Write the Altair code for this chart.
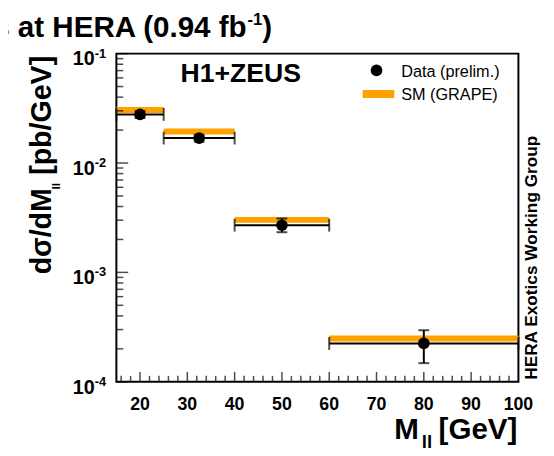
import altair as alt
import pandas as pd

# ---------------- data ----------------
bin_lo = [15, 25, 40, 60]
bin_hi = [25, 40, 60, 100]
m_center = [20, 32.5, 50, 80]
data_xsec = [0.0278, 0.0169, 0.00270, 0.000224]
data_err_up = [0.0020, 0.0012, 0.00041, 0.000072]
data_err_dn = [0.0020, 0.0012, 0.00037, 0.000076]
sm_xsec = [0.0305, 0.0194, 0.00302, 0.000249]

x_major = [20, 30, 40, 50, 60, 70, 80, 90]
x_minor = [v for v in range(16, 100, 2) if v % 10 != 0]
x_labels = [20, 30, 40, 50, 60, 70, 80, 90, 100]
y_decades = [1e-4, 1e-3, 1e-2, 1e-1]
y_exponents = ["-4", "-3", "-2", "-1"]
y_minor = [m * 10.0 ** e for e in (-4, -3, -2) for m in range(2, 10)]

title_main = "s at HERA (0.94 fb"
title_exp = "-1"
title_close = ")"
exp_label = "H1+ZEUS"
legend_data = "Data (prelim.)"
legend_sm = "SM (GRAPE)"
side_note = "HERA Exotics Working Group"
ytitle_parts = ["d\u03c3/dM", "ll", "[pb/GeV]"]
xtitle_parts = ["M", "ll", "[GeV]"]

ORANGE = "#ffa200"
FONT = "Liberation Sans"
W, H = 408, 333

df = pd.DataFrame({
    "lo": bin_lo, "hi": bin_hi, "center": m_center,
    "val": data_xsec,
    "up": [v + e for v, e in zip(data_xsec, data_err_up)],
    "dn": [v - e for v, e in zip(data_xsec, data_err_dn)],
    "sm": sm_xsec,
})
edges = pd.DataFrame({
    "edge": bin_lo + bin_hi,
    "val": data_xsec + data_xsec,
})
errs = pd.DataFrame({
    "center": m_center + m_center,
    "y": list(df["up"]) + list(df["dn"]),
})

xs = alt.Scale(domain=[15, 100], nice=False, zero=False)
ys = alt.Scale(type="log", domain=[1e-4, 1e-1], nice=False)

def X(f):
    return alt.X(f, scale=xs, axis=None)

def Y(f):
    return alt.Y(f, scale=ys, axis=None)

sm_band = alt.Chart(df).mark_rule(color=ORANGE, strokeWidth=6, strokeCap="butt").encode(
    x=X("lo:Q"), x2="hi:Q", y=Y("sm:Q"))
hline = alt.Chart(df).mark_rule(color="black", strokeWidth=2).encode(
    x=X("lo:Q"), x2="hi:Q", y=Y("val:Q"))
edge_caps = alt.Chart(edges).mark_tick(orient="vertical", size=13, thickness=2, color="black").encode(
    x=X("edge:Q"), y=Y("val:Q"))
vline = alt.Chart(df).mark_rule(color="black", strokeWidth=2).encode(
    x=X("center:Q"), y=Y("dn:Q"), y2="up:Q")
err_caps = alt.Chart(errs).mark_tick(orient="horizontal", size=11, thickness=2, color="black").encode(
    x=X("center:Q"), y=Y("y:Q"))
points = alt.Chart(df).mark_circle(size=140, color="black", opacity=1).encode(
    x=X("center:Q"), y=Y("val:Q"))

# axis ticks (inward)
xmaj = alt.Chart(pd.DataFrame({"v": x_major})).mark_tick(orient="vertical", size=10, thickness=1.5, color="black").encode(
    x=X("v:Q"), y=alt.value(H - 5))
xmin = alt.Chart(pd.DataFrame({"v": x_minor})).mark_tick(orient="vertical", size=6, thickness=1.5, color="black").encode(
    x=X("v:Q"), y=alt.value(H - 3))
ymaj = alt.Chart(pd.DataFrame({"v": y_decades})).mark_tick(orient="horizontal", size=12, thickness=1.5, color="black").encode(
    y=Y("v:Q"), x=alt.value(6))
ymin = alt.Chart(pd.DataFrame({"v": y_minor})).mark_tick(orient="horizontal", size=7, thickness=1.5, color="black").encode(
    y=Y("v:Q"), x=alt.value(3.5))

# axis labels
xlab = alt.Chart(pd.DataFrame({"v": x_labels, "t": [str(v) for v in x_labels]})).mark_text(
    font=FONT, fontSize=18, fontWeight="bold", align="center", baseline="alphabetic", color="black").encode(
    x=X("v:Q"), y=alt.value(362), text="t:N")
ydf = pd.DataFrame({"v": y_decades, "e": y_exponents, "b": ["10"] * 4})
ylab = alt.Chart(ydf).mark_text(
    font=FONT, fontSize=20, fontWeight="bold", align="right", baseline="alphabetic", dy=12, color="black").encode(
    y=Y("v:Q"), x=alt.value(-22), text="b:N")
yexp = alt.Chart(ydf).mark_text(
    font=FONT, fontSize=13, fontWeight="bold", align="left", baseline="alphabetic", dy=4, color="black").encode(
    y=Y("v:Q"), x=alt.value(-22), text="e:N")


def label(text, x, y, size, weight="bold", align="left", angle=0):
    kw = dict(font=FONT, fontSize=size, fontWeight=weight, align=align,
              baseline="alphabetic", color="black")
    if angle:
        kw["angle"] = angle
    return alt.Chart(pd.DataFrame({"t": [text]})).mark_text(**kw).encode(
        x=alt.value(x), y=alt.value(y), text="t:N")


texts = [
    label(title_main, -125, -17, 30),
    label(title_exp, 133, -29, 17),
    label(title_close, 148, -17, 30),
    label(exp_label, 65, 29, 27),
    label(legend_data, 289, 24, 16.5, weight="normal"),
    label(legend_sm, 289, 47, 16.5, weight="normal"),
    label(side_note, 427, 331, 17.5, angle=270),
    label(xtitle_parts[0], 282, 391, 30),
    label(xtitle_parts[1], 310, 400, 19),
    label(xtitle_parts[2], 327, 391, 30),
    label(ytitle_parts[0], -66, 224, 29, angle=270),
    label(ytitle_parts[1], -57, 138, 12, angle=270),
    label(ytitle_parts[2], -66, 123, 29, angle=270),
]

leg_dot = alt.Chart(pd.DataFrame({"t": [legend_data]})).mark_circle(size=140, color="black", opacity=1).encode(
    x=alt.value(264), y=alt.value(17))
leg_sw = alt.Chart(pd.DataFrame({"t": [legend_sm]})).mark_rule(color=ORANGE, strokeWidth=8, strokeCap="butt").encode(
    x=alt.value(250), x2=alt.value(282), y=alt.value(41))

chart = alt.layer(
    sm_band, hline, edge_caps, vline, err_caps, points,
    xmaj, xmin, ymaj, ymin, xlab, ylab, yexp, leg_dot, leg_sw, *texts
).properties(
    width=W, height=H,
    autosize=alt.AutoSizeParams(type="none"),
    padding={"left": 110, "top": 43, "right": 28, "bottom": 70},
).configure_view(stroke="black", strokeWidth=2)

chart.save("out.html", embed_options={"renderer": "svg", "actions": False})
